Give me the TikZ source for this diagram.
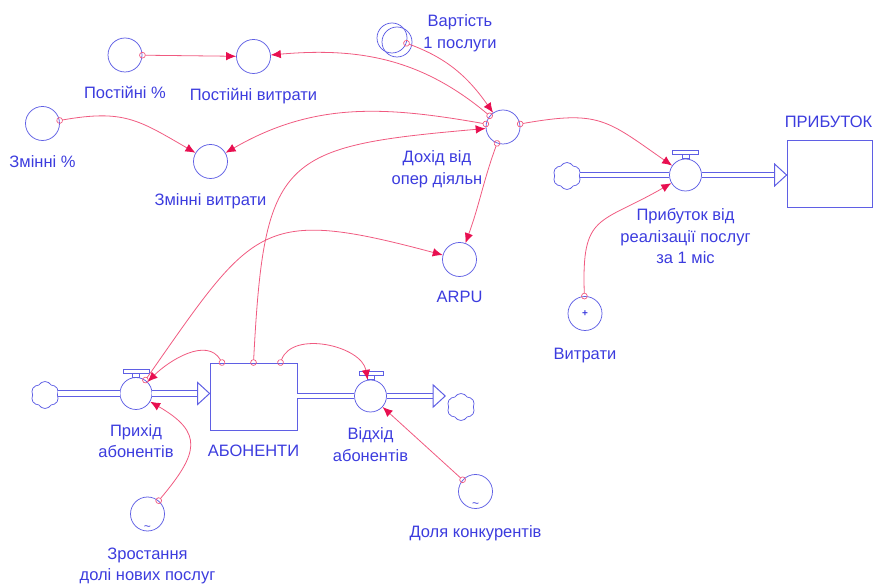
\documentclass[tikz,border=0pt]{standalone}
\usepackage{fontspec}
\setmainfont{Liberation Sans}
\usetikzlibrary{arrows.meta, positioning, calc, shapes.symbols}

\definecolor{vblue}{RGB}{60,60,222}
\definecolor{cblue}{RGB}{95,95,228}
\definecolor{linkred}{RGB}{240,90,128}
\definecolor{tipred}{RGB}{232,15,80}

\begin{document}
\begin{tikzpicture}[
		x=1pt, y=1pt,
		% Styles for the model elements
		aux/.style={circle, draw=cblue, line width=0.75pt, minimum size=34pt, inner sep=0pt, text=vblue, font=\small},
		valve/.style={circle, draw=cblue, line width=0.75pt, minimum size=32pt, inner sep=0pt},
		stock/.style={rectangle, draw=cblue, line width=0.85pt, minimum width=87pt, minimum height=67pt},
		cloudsrc/.style={cloud, cloud puffs=6, cloud puff arc=120, aspect=1, draw=cblue, line width=0.75pt,
			minimum width=28pt, minimum height=27pt, inner sep=0pt},
		lbl/.style={text=vblue, font=\fontsize{16.5}{21.5}\selectfont, align=center, inner sep=0pt},
		% Styles for flows and links
		pipe/.style={draw=cblue, double=white, double distance=4.6pt, line width=1.1pt},
		flowtip/.style={draw=cblue, fill=white, line width=1pt},
		handle/.style={draw=cblue, fill=white, line width=0.75pt},
		link/.style={draw=linkred, line width=0.8pt, shorten <=-3.2pt,
			{Circle[open, length=6.5pt, width=6.5pt, line width=0.7pt]}-{Latex[length=10pt, width=8.5pt, color=tipred]}},
		tilde/.style={text=vblue, inner sep=0pt, label distance=-6pt, font=\large}
		]
		\useasboundingbox (0,0) rectangle (874,583);
		
		% --- 1. COSTS ---
		\node[aux] (postpct) at (125,528) {};
		\node[lbl, below=14pt of postpct] (postpctL) {Постійні \%};
		\node[aux] (postcost) at (253.5,526.5) {};
		\node[lbl, below=14pt of postcost] (postcostL) {Постійні витрати};
		\node[aux] (zminpct) at (42.5,459.5) {};
		\node[lbl, below=14pt of zminpct] (zminpctL) {Змінні \%};
		\node[aux] (zmincost) at (210.5,421.5) {};
		\node[lbl, below=14pt of zmincost] (zmincostL) {Змінні витрати};
		
		% --- 2. INCOME ---
		\draw[cblue, line width=0.75pt] (397,541) circle (15pt);
		\node[aux, minimum size=30pt] (price) at (392,545) {};
		\node[lbl, anchor=north] (priceL) at ($(price.north)+(68,8)$) {Вартість\\1 послуги};
		\node[aux] (income) at (503,456) {};
		\node[lbl, anchor=north] (incomeL) at ($(income.south)+(-66,-6)$) {Дохід від\\опер діяльн};
		\node[aux] (arpu) at (459.5,323.5) {};
		\node[lbl, below=14pt of arpu] (arpuL) {ARPU};
		
		% --- 3. PROFIT FLOW ---
		\node[cloudsrc] (cloudC) at (567,407) {};
		\node[valve] (pvalve) at (685.5,408) {};
		\node[lbl, below=17pt of pvalve] (pvalveL) {Прибуток від\\реалізації послуг\\за 1 міс};
		\node[stock, minimum width=85pt] (profit) at (829.5,409.5) {};
		\node[lbl, anchor=south west] (profitL) at ([xshift=-2pt, yshift=12pt]profit.north west) {ПРИБУТОК};
		\node[aux, font=\normalsize\bfseries] (costs) at (585,269.5) {+};
		\node[lbl, below=17pt of costs] (costsL) {Витрати};
		
		% --- 4. SUBSCRIBER FLOWS ---
		\node[cloudsrc] (cloudA) at (45,188) {};
		\node[valve] (inflow) at (136,189.5) {};
		\node[lbl, below=14pt of inflow] (inflowL) {Прихід\\абонентів};
		\node[stock] (subs) at (253.5,186.5) {};
		\node[lbl, below=14pt of subs] (subsL) {АБОНЕНТИ};
		\node[valve] (outflow) at (370.5,187) {};
		\node[lbl, below=15pt of outflow] (outflowL) {Відхід\\абонентів};
		\node[cloudsrc] (cloudB) at (461,176) {};
		\node[aux, label={[tilde]below:\textasciitilde}] (growth) at (147.5,69) {};
		\node[lbl, below=16pt of growth] (growthL) {Зростання\\долі нових послуг};
		\node[aux, label={[tilde]below:\textasciitilde}] (compet) at (475.5,91.5) {};
		\node[lbl, below=16pt of compet] (competL) {Доля конкурентів};
		
		% --- VALVE HANDLES ---
		\draw[handle] ([xshift=-3.5pt]inflow.north) rectangle ([xshift=3.5pt, yshift=4pt]inflow.north);
		\draw[handle] ([xshift=-13pt, yshift=4pt]inflow.north) rectangle ([xshift=13pt, yshift=8pt]inflow.north);
		\draw[handle] ([xshift=-3.5pt]outflow.north) rectangle ([xshift=3.5pt, yshift=4pt]outflow.north);
		\draw[handle] ([xshift=-11pt, yshift=4pt]outflow.north) rectangle ([xshift=13pt, yshift=8pt]outflow.north);
		\draw[handle] ([xshift=-3.5pt]pvalve.north) rectangle ([xshift=3.5pt, yshift=4pt]pvalve.north);
		\draw[handle] ([xshift=-13pt, yshift=4pt]pvalve.north) rectangle ([xshift=13pt, yshift=8pt]pvalve.north);
		
		% --- PIPES ---
		\coordinate (tipA) at (inflow.east -| subs.west);
		\coordinate (tipB) at ([xshift=-3pt]cloudB.west |- outflow.east);
		\coordinate (tipC) at (pvalve.east -| profit.west);
		\draw[pipe] (cloudA.east |- inflow.west) -- (inflow.west);
		\draw[pipe] (inflow.east) -- ([xshift=-12pt]tipA);
		\draw[flowtip] (tipA) -- ++(-12,11) -- ++(0,-22) -- cycle;
		\draw[pipe] (subs.east |- outflow.west) -- (outflow.west);
		\draw[pipe] (outflow.east) -- ([xshift=-12pt]tipB);
		\draw[flowtip] (tipB) -- ++(-12,11) -- ++(0,-22) -- cycle;
		\draw[pipe] (cloudC.east |- pvalve.west) -- (pvalve.west);
		\draw[pipe] (pvalve.east) -- ([xshift=-12pt]tipC);
		\draw[flowtip] (tipC) -- ++(-12,11) -- ++(0,-22) -- cycle;
		
		% --- LINKS ---
		\draw[link] (postpct) -- (postcost);
		\draw[link] (income) to[out=140, in=5] (postcost);
		\draw[link] (income) to[out=170, in=30] (zmincost);
		\draw[link] (zminpct) to[out=10, in=150, looseness=1.2] (zmincost);
		\draw[link] (price) to[out=-20, in=125] (income);
		\draw[link] (subs.north) to[out=87, in=185, looseness=1.6] (income);
		\draw[link] ([xshift=-31.5pt]subs.north) to[out=120, in=45] (inflow);
		\draw[link] ([xshift=27pt]subs.north) to[out=70, in=100] (outflow);
		\draw[link] (inflow) to[out=55, in=165, looseness=1.5] (arpu);
		\draw[link] (income) to[out=250, in=70] (arpu);
		\draw[link] (income) to[out=10, in=145, looseness=1.3] (pvalve);
		\draw[link] (costs) to[out=92, in=210, looseness=1.5] (pvalve);
		\draw[link] (compet) -- (outflow);
		\draw[link] (growth) to[out=50, in=-30, looseness=1.6] (inflow);
		
\end{tikzpicture}
\end{document}
